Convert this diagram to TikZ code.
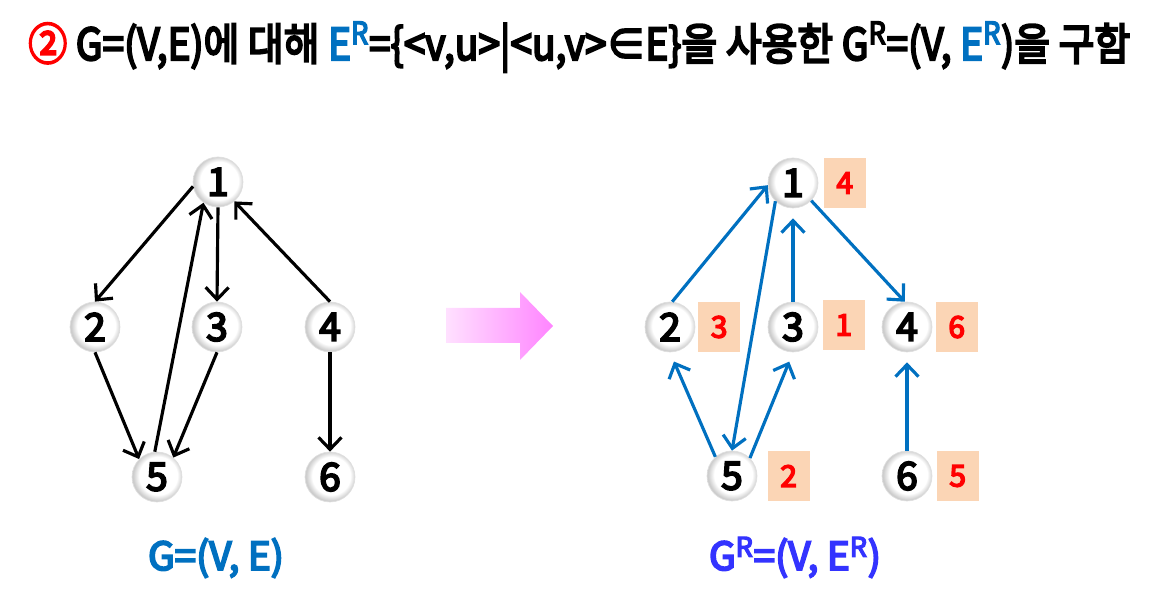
\documentclass[tikz,border=0pt]{standalone}
\usepackage{fontspec}
\setmainfont{Noto Sans CJK KR}
\newfontfamily\medfont{Noto Sans CJK KR}[FakeBold=5]
\usetikzlibrary{arrows.meta, positioning}

\definecolor{edgeblue}{RGB}{0,112,192}
\definecolor{titleblue}{RGB}{51,51,255}
\definecolor{peach}{RGB}{251,213,181}
\definecolor{numred}{RGB}{255,0,0}

% white disc with a grey rim
\pgfdeclareradialshading{rim}{\pgfpoint{2bp}{2bp}}{color(0bp)=(white); color(19bp)=(white); color(25bp)=(black!20); color(50bp)=(black!20)}

\tikzset{
  vtx/.style={circle, minimum size=1cm, inner sep=0pt, draw=gray!25,
    shading=rim, font=\fontsize{22}{22}\medfont},
  order/.style={rectangle, fill=peach, minimum width=0.84cm, minimum height=1cm,
    inner sep=0pt, text=numred, font=\fontsize{17}{17}\medfont},
  arc/.style={->, line width=1.8pt},
  rarc/.style={arc, draw=edgeblue},
  uparc/.style={rarc, shorten >=0.2cm}
}

\begin{document}
\begin{tikzpicture}[x=0.02cm, y=-0.02cm, >={Straight Barb[length=2.4mm, width=4.6mm]}]
  \useasboundingbox (0,0) rectangle (1154,614);
  % Title line
  \node[anchor=base west, inner sep=0pt, font=\fontsize{25}{25}\medfont] (title) at (28,60)
    {\resizebox{22.04cm}{\height}{\textcolor{numred}{②} G=(V,E)에 대해 \textcolor{edgeblue}{E\textsuperscript{R}}=\{<v,u>|<u,v>∈E\}을 사용한 G\textsuperscript{R}=(V, \textcolor{edgeblue}{E\textsuperscript{R}})을 구함}};

  % Graph G
  \node[vtx] (a1) at (218,182) {1};
  \node[vtx] (a2) at (95,327) {2};
  \node[vtx] (a3) at (217,327) {3};
  \node[vtx] (a4) at (330,327) {4};
  \node[vtx] (a5) at (157,477) {5};
  \node[vtx] (a6) at (330,477) {6};
  \draw[arc] (a1.190) -- (a2.north);
  \draw[arc] (a1.south) -- (a3.north);
  \draw[arc] (a4.north) -- (a1.-50);
  \draw[arc] (a2.south) -- (a5.135);
  \draw[arc] (a3.south) -- (a5.50);
  \draw[arc] (a5.95) -- (a1.-125);
  \draw[arc] (a4.south) -- (a6.north);
  \node[text=edgeblue, anchor=base, font=\fontsize{22}{22}\medfont] (capA) at (216,570) {G=(V, E)};

  % Big arrow between the graphs
  \shade[left color=magenta!12, right color=magenta!48]
    (446,308) -- (520,308) -- (520,292) -- (553,326) -- (520,360) -- (520,343) -- (446,343) -- cycle;

  % Graph G^R
  \node[vtx] (b1) at (793,183) {1};
  \node[vtx] (b2) at (670,327) {2};
  \node[vtx] (b3) at (793,327) {3};
  \node[vtx] (b4) at (907,327) {4};
  \node[vtx] (b5) at (732,476) {5};
  \node[vtx] (b6) at (907,476) {6};
  \draw[rarc] (b2.85) -- (b1.185);
  \draw[uparc] (b3.north) -- (b1.south);
  \draw[rarc] (b1.-44) -- (b4.95);
  \draw[rarc] (b1.-134) -- (b5.north);
  \draw[uparc] (b5.131) -- (b2.south);
  \draw[uparc] (b5.45) -- (b3.south);
  \draw[uparc] (b6.north) -- (b4.south);
  % Finishing order labels
  \node[order, right=0.1cm of b1] (o1) {4};
  \node[order, right=0.05cm of b2] (o2) {3};
  \node[order, right=0.08cm of b3, yshift=0.04cm] (o3) {1};
  \node[order, right=0.06cm of b4] (o4) {6};
  \node[order, right=0.2cm of b5] (o5) {2};
  \node[order, right=0.08cm of b6] (o6) {5};
  \node[text=titleblue, anchor=base, font=\fontsize{22}{22}\medfont] (capB) at (795,570) {G\textsuperscript{R}=(V, E\textsuperscript{R})};
\end{tikzpicture}
\end{document}
